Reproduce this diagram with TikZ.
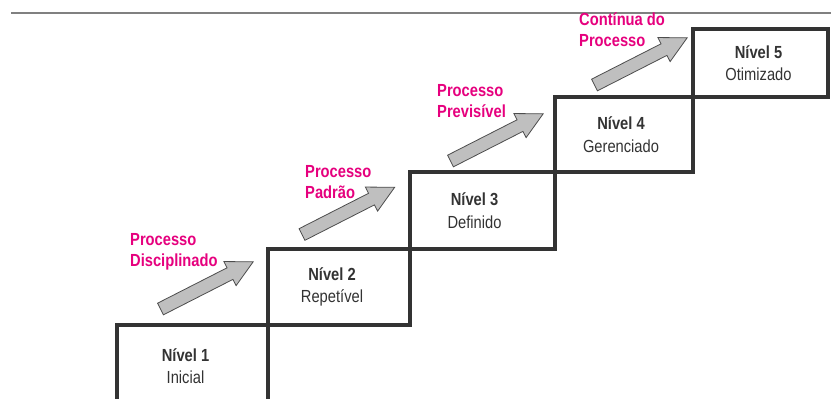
\documentclass[tikz,border=0pt]{standalone}
\usepackage{fontspec}
\setmainfont{Liberation Sans}[FakeStretch=0.84]
\usepackage{xcolor}
\usepackage{tikz}
\definecolor{stepgray}{HTML}{333333}
\definecolor{procpink}{HTML}{E6007E}
\definecolor{arrowfill}{HTML}{BFBFBF}
\definecolor{arrowline}{HTML}{4D4D4D}
\tikzstyle{level} = [rectangle, draw=stepgray, line width=4pt, inner sep=0pt]
\tikzstyle{leveltext} = [align=center, text=stepgray, inner sep=0pt, font=\fontsize{17.5}{22.5}\selectfont]
\tikzstyle{proc} = [align=left, anchor=west, inner sep=0pt, text=procpink, font=\bfseries\fontsize{17.5}{21}\selectfont]
\tikzset{stairarrow/.pic={
	\draw [draw=arrowline, fill=arrowfill, line width=0.8pt, line join=miter]
		(0,-6.5) -- (78,-6.5) -- (78,-13.5) -- (104,0) -- (78,13.5) -- (78,6.5) -- (0,6.5) -- cycle;
}}

\begin{document}
\begin{tikzpicture}[x=1pt, y=-1pt]
		\useasboundingbox (0,0) rectangle (831,399);
		\clip (0,0) rectangle (831,399);
		\fill [white] (0,0) rectangle (831,399);
		\draw [gray, line width=1.5pt] (11,13) -- (831,13);
		
		\node (nivel1) [level, minimum width=151pt, minimum height=76pt] at (192.5,363) {};
		\node (nivel2) [level, minimum width=142pt, minimum height=76pt] at (339,287) {};
		\node (nivel3) [level, minimum width=145pt, minimum height=77pt] at (482.5,210.5) {};
		\node (nivel4) [level, minimum width=138pt, minimum height=75pt] at (624,134.5) {};
		\node (nivel5) [level, minimum width=135pt, minimum height=68pt] at (760.5,63) {};
		
		\node (txt1) [leveltext] at ([xshift=-7pt, yshift=-3pt]nivel1.center) {\textbf{Nível 1}\\Inicial};
		\node (txt2) [leveltext] at ([xshift=-7pt]nivel2.center) {\textbf{Nível 2}\\Repetível};
		\node (txt3) [leveltext] at ([xshift=-8pt]nivel3.center) {\textbf{Nível 3}\\Definido};
		\node (txt4) [leveltext] at ([xshift=-3pt]nivel4.center) {\textbf{Nível 4}\\Gerenciado};
		\node (txt5) [leveltext] at ([xshift=-2pt]nivel5.center) {\textbf{Nível 5}\\Otimizado};
		
		\pic [rotate=27] at (160.5,309) {stairarrow};
		\pic [rotate=27] at (302,234.5) {stairarrow};
		\pic [rotate=27] at (450.5,161) {stairarrow};
		\pic [rotate=27] at (594.5,85) {stairarrow};
		
		\node (proc1) [proc] at (130,251.5) {Processo\\Disciplinado};
		\node (proc2) [proc] at (305,182) {Processo\\Padrão};
		\node (proc3) [proc] at (437,101) {Processo\\Previsível};
		\node (proc4) [proc] at (579,30) {Contínua do\\Processo};
	\end{tikzpicture}
\end{document}
